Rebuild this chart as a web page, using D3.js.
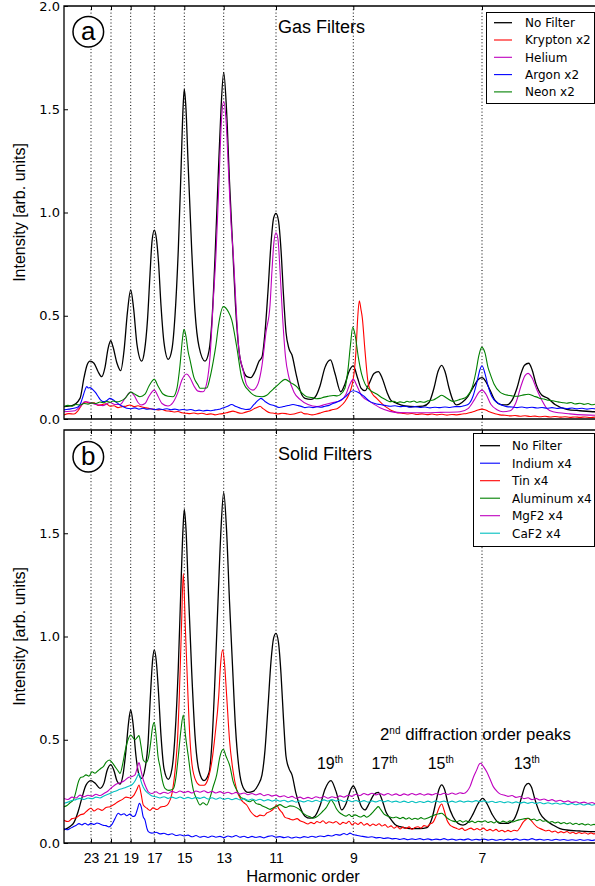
<!DOCTYPE html>
<html>
<head>
<meta charset="utf-8">
<script src="https://cdn.jsdelivr.net/npm/d3@7/dist/d3.min.js"></script>
<style>
  body { margin: 0; background: #fff; }
  svg { display: block; }
</style>
</head>
<body>
<svg id="chart" width="595" height="886"></svg>
<script>
// Detector position (mm along the MCP) of each harmonic order
const harmonicOrders = [23, 21, 19, 17, 15, 13, 11, 9, 7];
const harmonicPos = [2.7, 4.7, 6.67, 9.03, 12.03, 15.97, 21.2, 28.93, 41.8];
const yTicksA = [0, 0.5, 1.0, 1.5, 2.0];
const yTicksB = [0, 0.5, 1.0, 1.5];

// ---- (a) gas filters: [position mm, intensity] ----
const noFilterA = [[0,0.06],[0.8,0.065],[1.6,0.10],[2.0,0.20],[2.3,0.26],[2.6,0.28],[3.0,0.27],[3.4,0.23],[3.77,0.205],[4.1,0.25],[4.4,0.34],[4.67,0.379],[4.9,0.35],[5.3,0.27],[5.67,0.234],[6.0,0.33],[6.35,0.52],[6.67,0.625],[6.95,0.54],[7.3,0.36],[7.77,0.28],
  [8.05,0.33],[8.35,0.48],[8.6,0.70],[8.8,0.86],[9.03,0.915],[9.25,0.87],[9.45,0.76],[9.7,0.55],[10.0,0.37],[10.43,0.289],
  [10.8,0.34],[11.1,0.50],[11.43,0.82],[11.7,1.2],[11.9,1.5],[12.03,1.597],[12.2,1.5],[12.4,1.25],[12.77,0.82],[13.1,0.52],[13.5,0.35],[14.1,0.28],
  [14.5,0.33],[14.8,0.48],[15.1,0.78],[15.4,1.15],[15.7,1.5],[15.97,1.679],[16.25,1.5],[16.55,1.15],[16.85,0.85],[17.15,0.55],[17.5,0.33],[17.9,0.24],[18.3,0.205],[18.67,0.20],
  [19.1,0.23],[19.5,0.28],[19.8,0.30],[20.1,0.42],[20.4,0.62],[20.7,0.85],[20.95,0.97],[21.2,0.996],[21.45,0.96],[21.7,0.82],[21.95,0.60],[22.2,0.42],[22.5,0.34],[22.8,0.31],[23.2,0.22],[23.6,0.14],[24.1,0.10],[24.7,0.095],
  [25.1,0.105],[25.6,0.16],[26.1,0.25],[26.65,0.286],[27.1,0.22],[27.67,0.132],[28.1,0.17],[28.5,0.23],[28.93,0.257],[29.35,0.20],[29.7,0.15],[30.1,0.137],[30.5,0.17],[31.0,0.22],[31.43,0.229],[31.8,0.20],[32.3,0.13],[32.7,0.09],[33.27,0.076],[34.1,0.063],[35.1,0.06],[35.9,0.062],[36.5,0.08],[37.0,0.15],[37.4,0.23],[37.77,0.26],[38.1,0.23],[38.5,0.15],[38.9,0.09],[39.27,0.068],[39.8,0.08],[40.4,0.11],[41.0,0.16],[41.4,0.19],[41.8,0.20],[42.2,0.18],[42.6,0.14],[43.1,0.09],[43.7,0.07],[44.27,0.068],[44.8,0.09],[45.3,0.15],[45.7,0.22],[46.05,0.26],[46.47,0.27],[46.8,0.24],[47.2,0.17],[47.77,0.116],[48.4,0.10],[49.1,0.07],[50.27,0.047],[51.6,0.04],[53.1,0.035],[53.6,0.035]];

const kryptonA = [[0,0.02],[0.5,0.026],[1.0,0.024],[1.4,0.04],[1.8,0.07],[2.2,0.082],[2.6,0.076],[3.0,0.078],[3.4,0.066],[3.8,0.07],[4.2,0.074],[4.6,0.062],[5.0,0.064],[5.4,0.055],[5.8,0.06],[6.2,0.062],[6.6,0.068],[7.0,0.06],[7.4,0.064],[7.8,0.058],[8.2,0.054],[8.6,0.05],[9.0,0.047],[9.4,0.044],[9.8,0.046],[10.2,0.04],[10.6,0.038],[11.0,0.034],[11.4,0.036],[11.8,0.03],[12.2,0.028],[12.6,0.026],[13.0,0.029],[13.4,0.025],[13.8,0.028],[14.27,0.022],[14.7,0.025],[15.1,0.02],[15.5,0.024],[15.9,0.026],[16.4,0.032],[16.9,0.038],[17.3,0.032],[17.7,0.028],[18.1,0.032],[18.4,0.036],[18.8,0.044],[19.1,0.052],[19.4,0.058],[19.6,0.062],[19.9,0.05],[20.2,0.04],[20.6,0.03],[21.0,0.028],[21.4,0.024],[21.8,0.028],[22.2,0.026],[22.6,0.022],[23.0,0.024],[23.4,0.03],[23.7,0.034],[24.0,0.026],[24.4,0.024],[24.8,0.02],[25.27,0.024],[25.7,0.03],[26.1,0.036],[26.5,0.04],[26.9,0.046],[27.3,0.05],[27.6,0.06],[28.1,0.085],[28.5,0.12],[28.83,0.17],[29.05,0.24],[29.2,0.33],[29.37,0.49],[29.53,0.573],[29.7,0.53],[29.83,0.49],[30.1,0.33],[30.43,0.17],[30.8,0.125],[31.27,0.10],[31.9,0.07],[32.3,0.055],[32.6,0.045],[33.0,0.036],[33.27,0.031],[33.8,0.028],[34.3,0.024],[34.8,0.027],[35.3,0.022],[35.8,0.025],[36.3,0.021],[36.8,0.024],[37.3,0.02],[37.8,0.023],[38.3,0.019],[38.8,0.022],[39.3,0.02],[39.8,0.024],[40.27,0.027],[40.7,0.032],[41.0,0.036],[41.4,0.044],[41.8,0.048],[42.1,0.045],[42.4,0.038],[42.8,0.03],[43.1,0.025],[43.6,0.02],[44.1,0.018],[44.6,0.015],[45.1,0.017],[45.6,0.013],[46.1,0.016],[46.6,0.012],[47.1,0.014],[47.6,0.011],[48.1,0.013],[48.6,0.01],[49.1,0.012],[49.6,0.009],[50.1,0.011],[50.6,0.008],[51.1,0.01],[51.6,0.008],[52.1,0.01],[52.6,0.007],[53.1,0.009],[53.6,0.008]];

const heliumA = [[0,0.035],[1.1,0.04],[1.6,0.06],[2.1,0.085],[2.6,0.08],[3.2,0.07],[3.9,0.065],[4.6,0.08],[5.1,0.07],[5.6,0.07],[6.1,0.10],[6.67,0.13],[7.0,0.115],[7.4,0.08],[7.7,0.068],[8.1,0.075],[8.5,0.11],[9.03,0.14],[9.4,0.11],[9.8,0.075],[10.4,0.063],[10.9,0.08],[11.4,0.13],[11.8,0.19],[12.27,0.218],[12.6,0.20],[13.0,0.16],[13.4,0.135],[13.9,0.132],[14.3,0.18],[14.6,0.30],[14.9,0.55],[15.2,0.80],[15.5,1.15],[15.75,1.45],[15.97,1.537],[16.2,1.45],[16.45,1.2],[16.7,0.95],[16.95,0.78],[17.2,0.55],[17.5,0.33],[17.9,0.24],[18.27,0.165],[18.9,0.14],[19.4,0.17],[19.8,0.26],[20.2,0.42],[20.6,0.55],[20.8,0.72],[21.0,0.86],[21.2,0.902],[21.4,0.87],[21.6,0.72],[21.85,0.50],[22.15,0.30],[22.5,0.20],[23.0,0.13],[23.6,0.095],[24.4,0.07],[25.3,0.06],[26.1,0.07],[26.9,0.08],[27.7,0.09],[28.2,0.12],[28.6,0.17],[28.93,0.192],[29.3,0.16],[29.8,0.11],[30.6,0.084],[31.6,0.055],[32.6,0.037],[33.6,0.031],[35.6,0.03],[37.6,0.032],[39.6,0.035],[40.4,0.05],[41.0,0.09],[41.5,0.13],[41.8,0.14],[42.2,0.12],[42.7,0.07],[43.3,0.045],[43.9,0.035],[44.6,0.04],[45.2,0.08],[45.7,0.16],[46.1,0.21],[46.4,0.221],[46.8,0.20],[47.3,0.14],[47.8,0.09],[48.3,0.05],[48.9,0.035],[50.6,0.025],[53.1,0.018],[53.6,0.018]];

const argonA = [[0,0.044],[0.5,0.048],[1.0,0.052],[1.4,0.058],[1.7,0.08],[1.9,0.11],[2.1,0.14],[2.27,0.157],[2.45,0.15],[2.6,0.152],[2.93,0.14],[3.2,0.125],[3.4,0.11],[3.7,0.09],[3.9,0.084],[4.3,0.09],[4.6,0.10],[5.0,0.09],[5.3,0.078],[5.6,0.068],[5.9,0.06],[6.27,0.052],[6.7,0.05],[7.1,0.054],[7.5,0.048],[7.9,0.052],[8.3,0.047],[8.7,0.05],[9.1,0.045],[9.5,0.049],[9.9,0.046],[10.3,0.05],[10.7,0.045],[11.1,0.048],[11.5,0.043],[11.9,0.046],[12.3,0.043],[12.7,0.046],[13.1,0.04],[13.5,0.043],[13.9,0.039],[14.3,0.042],[14.7,0.04],[15.1,0.044],[15.5,0.047],[15.8,0.052],[16.3,0.06],[16.77,0.07],[17.2,0.06],[17.5,0.055],[17.8,0.05],[18.2,0.046],[18.6,0.048],[18.9,0.065],[19.1,0.075],[19.4,0.09],[19.7,0.10],[20.1,0.085],[20.6,0.07],[21.0,0.065],[21.2,0.06],[21.5,0.056],[21.8,0.058],[22.1,0.062],[22.4,0.065],[22.9,0.07],[23.4,0.065],[23.8,0.06],[24.1,0.055],[24.5,0.058],[24.9,0.055],[25.3,0.059],[25.7,0.057],[26.1,0.062],[26.5,0.066],[26.9,0.075],[27.3,0.082],[27.6,0.09],[28.2,0.11],[28.6,0.13],[28.93,0.137],[29.4,0.13],[30.0,0.11],[30.6,0.084],[31.1,0.075],[31.6,0.07],[32.1,0.066],[32.6,0.062],[33.1,0.064],[33.6,0.06],[34.1,0.062],[34.6,0.057],[35.1,0.06],[35.6,0.056],[36.1,0.058],[36.6,0.054],[37.1,0.057],[37.6,0.055],[38.1,0.058],[38.6,0.056],[39.1,0.06],[39.6,0.06],[40.0,0.064],[40.4,0.07],[40.9,0.11],[41.3,0.18],[41.6,0.24],[41.8,0.258],[42.1,0.22],[42.4,0.16],[42.77,0.11],[43.3,0.08],[43.9,0.065],[44.27,0.06],[44.8,0.058],[45.3,0.055],[45.8,0.058],[46.3,0.054],[46.8,0.057],[47.3,0.053],[47.8,0.056],[48.3,0.052],[48.8,0.055],[49.3,0.051],[49.8,0.054],[50.3,0.05],[50.8,0.053],[51.3,0.049],[51.8,0.052],[52.3,0.048],[52.8,0.051],[53.3,0.048],[53.6,0.049]];

const neonA = [[0,0.06],[0.4,0.066],[0.8,0.062],[1.2,0.07],[1.6,0.068],[2.0,0.075],[2.4,0.072],[2.8,0.078],[3.2,0.075],[3.6,0.082],[4.0,0.079],[4.27,0.085],[4.6,0.081],[4.9,0.087],[5.3,0.083],[5.6,0.086],[6.1,0.10],[6.67,0.13],[7.1,0.12],[7.6,0.108],[8.1,0.12],[8.5,0.16],[9.03,0.192],[9.4,0.16],[9.9,0.121],[10.4,0.11],[10.9,0.108],[11.3,0.15],[11.6,0.26],[11.85,0.39],[12.0,0.434],[12.2,0.40],[12.4,0.33],[12.6,0.286],[13.0,0.2],[13.4,0.165],[13.6,0.149],[14.27,0.15],[14.6,0.2],[14.93,0.28],[15.2,0.36],[15.43,0.447],[15.93,0.544],[16.43,0.52],[16.77,0.48],[17.27,0.35],[17.77,0.2],[18.1,0.16],[18.43,0.14],[18.9,0.118],[19.27,0.11],[19.8,0.108],[20.27,0.115],[20.6,0.13],[20.93,0.145],[21.5,0.17],[22.1,0.192],[22.7,0.175],[23.27,0.157],[23.8,0.125],[24.27,0.108],[24.8,0.104],[25.2,0.098],[25.6,0.1],[26.0,0.106],[26.4,0.11],[26.93,0.114],[27.3,0.112],[27.6,0.117],[28.1,0.15],[28.4,0.24],[28.65,0.36],[28.87,0.444],[29.1,0.41],[29.43,0.30],[29.75,0.22],[30.1,0.17],[30.6,0.14],[31.27,0.121],[31.9,0.10],[32.3,0.09],[32.6,0.084],[33.0,0.086],[33.3,0.08],[33.6,0.083],[34.0,0.079],[34.3,0.086],[34.6,0.082],[35.0,0.087],[35.3,0.08],[35.6,0.084],[36.0,0.081],[36.4,0.088],[36.93,0.092],[37.4,0.105],[37.77,0.115],[38.3,0.10],[38.9,0.085],[39.3,0.09],[39.6,0.095],[40.0,0.1],[40.27,0.108],[40.8,0.15],[41.2,0.23],[41.5,0.31],[41.77,0.347],[42.1,0.32],[42.4,0.25],[42.6,0.221],[43.0,0.17],[43.6,0.13],[44.0,0.12],[44.4,0.115],[44.8,0.112],[45.27,0.11],[45.8,0.115],[46.43,0.12],[47.0,0.11],[47.3,0.106],[47.6,0.1],[48.0,0.097],[48.3,0.092],[48.6,0.09],[49.0,0.087],[49.4,0.083],[49.8,0.08],[50.27,0.076],[50.7,0.08],[51.1,0.073],[51.6,0.076],[52.0,0.071],[52.4,0.075],[52.8,0.069],[53.2,0.072],[53.6,0.07]];

// ---- (b) solid filters ----
const noFilterB = [[0,0.063],[0.6,0.08],[1.0,0.10],[1.4,0.15],[1.8,0.22],[2.2,0.28],[2.7,0.302],[3.1,0.29],[3.6,0.265],[4.0,0.29],[4.3,0.35],[4.67,0.38],[5.0,0.35],[5.3,0.30],[5.6,0.285],[5.9,0.33],[6.2,0.45],[6.45,0.58],[6.67,0.644],[6.9,0.58],[7.2,0.42],[7.5,0.33],[7.77,0.313],[8.1,0.36],[8.4,0.48],[8.65,0.72],[8.85,0.88],[9.03,0.935],[9.23,0.88],[9.45,0.73],[9.7,0.52],[10.0,0.36],[10.43,0.308],[10.8,0.36],[11.1,0.52],[11.43,0.85],[11.7,1.25],[11.9,1.52],[12.03,1.616],[12.2,1.52],[12.4,1.27],[12.77,0.83],[13.1,0.52],[13.5,0.35],[14.0,0.302],[14.5,0.34],[14.8,0.49],[15.1,0.8],[15.4,1.17],[15.7,1.52],[15.97,1.698],[16.25,1.52],[16.55,1.17],[16.85,0.86],[17.15,0.56],[17.5,0.36],[17.9,0.27],[18.4,0.245],[18.9,0.25],[19.4,0.28],[19.8,0.33],[20.1,0.45],[20.4,0.66],[20.7,0.88],[20.95,0.99],[21.2,1.015],[21.45,0.97],[21.7,0.82],[21.95,0.60],[22.2,0.42],[22.5,0.36],[22.8,0.33],[23.2,0.24],[23.6,0.176],[24.1,0.13],[24.6,0.12],[25.1,0.13],[25.6,0.18],[26.1,0.26],[26.7,0.302],[27.2,0.25],[27.77,0.16],[28.2,0.19],[28.6,0.25],[28.93,0.276],[29.3,0.24],[29.7,0.18],[30.1,0.16],[30.5,0.19],[31.0,0.235],[31.43,0.245],[31.8,0.21],[32.2,0.15],[32.6,0.12],[33.1,0.09],[33.6,0.079],[34.6,0.07],[35.6,0.07],[36.3,0.075],[36.8,0.12],[37.2,0.2],[37.5,0.26],[37.77,0.281],[38.05,0.26],[38.4,0.19],[38.9,0.127],[39.4,0.095],[39.9,0.087],[40.4,0.1],[40.9,0.14],[41.4,0.19],[41.87,0.216],[42.3,0.19],[42.8,0.14],[43.6,0.095],[44.3,0.095],[44.93,0.11],[45.4,0.16],[45.8,0.23],[46.1,0.275],[46.43,0.289],[46.75,0.27],[47.1,0.21],[47.6,0.144],[48.2,0.11],[48.9,0.087],[49.6,0.07],[50.27,0.063],[51.6,0.058],[53.1,0.055],[53.6,0.055]];

const indiumB = [[0,0.071],[0.3,0.064],[0.6,0.07],[0.9,0.078],[1.2,0.085],[1.5,0.094],[1.8,0.088],[2.1,0.096],[2.4,0.087],[2.7,0.095],[3.0,0.09],[3.3,0.097],[3.6,0.092],[3.9,0.086],[4.2,0.084],[4.5,0.078],[4.8,0.09],[5.1,0.118],[5.43,0.144],[5.7,0.136],[6.0,0.142],[6.27,0.132],[6.6,0.14],[6.9,0.128],[7.1,0.132],[7.35,0.165],[7.53,0.192],[7.75,0.17],[7.9,0.13],[8.1,0.111],[8.3,0.07],[8.43,0.055],[8.8,0.048],[9.2,0.052],[9.6,0.044],[10.0,0.047],[10.4,0.04],[10.8,0.045],[11.2,0.036],[11.6,0.04],[12.0,0.034],[12.4,0.038],[12.8,0.03],[13.2,0.036],[13.6,0.028],[14.0,0.033],[14.4,0.027],[14.8,0.034],[15.2,0.028],[15.6,0.032],[16.0,0.026],[16.4,0.034],[16.8,0.029],[17.2,0.036],[17.6,0.028],[18.0,0.033],[18.4,0.026],[18.8,0.032],[19.2,0.027],[19.6,0.031],[20.0,0.025],[20.4,0.032],[20.8,0.035],[21.2,0.028],[21.6,0.031],[22.0,0.026],[22.4,0.03],[22.8,0.024],[23.2,0.029],[23.6,0.025],[24.0,0.031],[24.4,0.027],[24.8,0.033],[25.2,0.028],[25.6,0.034],[26.0,0.031],[26.4,0.037],[26.8,0.034],[27.2,0.041],[27.6,0.038],[28.0,0.046],[28.3,0.04],[28.6,0.048],[28.9,0.041],[29.2,0.038],[29.6,0.034],[30.0,0.031],[30.4,0.028],[30.8,0.03],[31.2,0.025],[31.6,0.027],[32.0,0.022],[32.4,0.025],[32.8,0.02],[33.2,0.022],[33.6,0.017],[34.0,0.021],[34.4,0.016],[34.8,0.02],[35.2,0.017],[35.6,0.021],[36.0,0.016],[36.4,0.02],[36.8,0.015],[37.2,0.019],[37.6,0.016],[38.0,0.021],[38.4,0.015],[38.8,0.019],[39.2,0.014],[39.6,0.018],[40.0,0.015],[40.4,0.02],[40.8,0.014],[41.2,0.018],[41.6,0.015],[42.0,0.019],[42.4,0.014],[42.8,0.018],[43.2,0.013],[43.6,0.017],[44.0,0.014],[44.4,0.019],[44.8,0.015],[45.2,0.02],[45.6,0.014],[46.0,0.018],[46.4,0.015],[46.8,0.021],[47.2,0.015],[47.6,0.018],[48.0,0.014],[48.4,0.017],[48.8,0.013],[49.2,0.018],[49.6,0.014],[50.0,0.017],[50.4,0.013],[50.8,0.016],[51.2,0.013],[51.6,0.017],[52.0,0.013],[52.4,0.016],[52.8,0.012],[53.2,0.016],[53.6,0.014]];

const tinB = [[0,0.11],[0.4,0.104],[0.8,0.118],[1.2,0.122],[1.6,0.136],[2.0,0.142],[2.4,0.16],[2.7,0.168],[3.0,0.155],[3.4,0.166],[3.8,0.158],[4.2,0.172],[4.6,0.176],[5.0,0.186],[5.4,0.2],[5.8,0.21],[6.2,0.222],[6.6,0.218],[7.0,0.232],[7.3,0.26],[7.5,0.281],[7.7,0.24],[7.93,0.184],[8.3,0.168],[8.6,0.158],[8.9,0.17],[9.3,0.162],[9.7,0.175],[10.1,0.178],[10.43,0.19],[10.8,0.24],[11.2,0.4],[11.35,0.5],[11.53,0.71],[11.75,1.05],[11.93,1.306],[12.13,1.05],[12.4,0.71],[12.6,0.5],[12.8,0.38],[13.2,0.3],[13.6,0.28],[14.0,0.28],[14.4,0.31],[14.8,0.40],[15.1,0.52],[15.47,0.71],[15.65,0.86],[15.87,0.935],[16.05,0.87],[16.27,0.71],[16.55,0.5],[16.9,0.35],[17.27,0.257],[17.7,0.21],[18.0,0.195],[18.27,0.184],[18.7,0.15],[19.0,0.135],[19.27,0.127],[19.6,0.135],[20.0,0.132],[20.27,0.145],[20.6,0.152],[21.0,0.168],[21.27,0.184],[21.5,0.165],[21.8,0.148],[22.1,0.124],[22.5,0.118],[22.9,0.112],[23.3,0.118],[23.6,0.108],[24.0,0.1],[24.4,0.092],[24.7,0.1],[25.0,0.094],[25.3,0.104],[25.6,0.098],[25.9,0.108],[26.2,0.095],[26.5,0.103],[26.9,0.097],[27.2,0.104],[27.6,0.09],[27.9,0.1],[28.2,0.095],[28.5,0.105],[28.8,0.088],[29.1,0.098],[29.4,0.09],[29.7,0.1],[30.0,0.086],[30.3,0.094],[30.6,0.083],[30.9,0.092],[31.2,0.085],[31.5,0.093],[31.8,0.082],[32.1,0.089],[32.4,0.076],[32.7,0.083],[33.0,0.072],[33.3,0.08],[33.6,0.068],[33.9,0.077],[34.2,0.07],[34.5,0.078],[34.8,0.066],[35.1,0.075],[35.4,0.079],[35.7,0.072],[36.0,0.084],[36.3,0.08],[36.6,0.092],[36.9,0.1],[37.2,0.13],[37.5,0.17],[37.77,0.189],[38.0,0.16],[38.3,0.11],[38.6,0.087],[38.9,0.078],[39.2,0.072],[39.5,0.066],[39.8,0.072],[40.1,0.061],[40.4,0.067],[40.7,0.072],[41.0,0.064],[41.3,0.07],[41.6,0.063],[41.93,0.072],[42.3,0.06],[42.6,0.066],[42.9,0.058],[43.2,0.066],[43.5,0.056],[43.8,0.062],[44.1,0.054],[44.4,0.061],[44.7,0.055],[45.0,0.062],[45.3,0.058],[45.6,0.075],[45.9,0.1],[46.2,0.114],[46.43,0.12],[46.7,0.11],[47.0,0.092],[47.3,0.078],[47.6,0.07],[47.9,0.064],[48.2,0.058],[48.5,0.062],[48.8,0.053],[49.1,0.058],[49.4,0.049],[49.7,0.055],[50.0,0.05],[50.3,0.056],[50.6,0.047],[50.9,0.052],[51.2,0.045],[51.5,0.051],[51.8,0.046],[52.1,0.05],[52.4,0.043],[52.7,0.049],[53.0,0.044],[53.3,0.048],[53.6,0.046]];

const aluminumB = [[0,0.176],[0.3,0.182],[0.6,0.195],[0.93,0.208],[1.2,0.25],[1.4,0.29],[1.7,0.318],[1.93,0.321],[2.2,0.33],[2.5,0.324],[2.8,0.345],[3.1,0.338],[3.4,0.35],[3.7,0.362],[3.93,0.37],[4.2,0.39],[4.53,0.402],[4.8,0.39],[5.1,0.37],[5.4,0.35],[5.6,0.337],[5.9,0.39],[6.1,0.442],[6.4,0.5],[6.67,0.523],[6.9,0.51],[7.1,0.5],[7.3,0.51],[7.5,0.52],[7.7,0.47],[7.93,0.402],[8.2,0.39],[8.43,0.41],[8.65,0.48],[8.85,0.56],[9.03,0.583],[9.25,0.5],[9.4,0.42],[9.6,0.37],[9.85,0.3],[10.1,0.265],[10.5,0.255],[10.93,0.262],[11.2,0.32],[11.43,0.42],[11.7,0.55],[11.93,0.62],[12.15,0.52],[12.43,0.42],[12.7,0.32],[12.93,0.257],[13.3,0.21],[13.6,0.184],[13.9,0.195],[14.27,0.184],[14.6,0.22],[14.9,0.27],[15.27,0.33],[15.6,0.42],[15.93,0.454],[16.2,0.42],[16.6,0.37],[16.9,0.3],[17.27,0.257],[17.7,0.22],[18.0,0.214],[18.27,0.205],[18.6,0.2],[18.9,0.208],[19.2,0.192],[19.6,0.186],[19.9,0.178],[20.2,0.172],[20.6,0.163],[20.9,0.17],[21.2,0.176],[21.6,0.186],[21.9,0.178],[22.2,0.172],[22.6,0.18],[22.93,0.178],[23.3,0.17],[23.6,0.16],[23.9,0.145],[24.2,0.135],[24.6,0.127],[24.9,0.12],[25.2,0.125],[25.6,0.14],[25.9,0.155],[26.2,0.17],[26.5,0.195],[26.7,0.208],[27.0,0.19],[27.2,0.17],[27.5,0.15],[27.9,0.136],[28.2,0.13],[28.5,0.138],[28.8,0.128],[29.1,0.136],[29.4,0.13],[29.7,0.126],[30.0,0.134],[30.27,0.125],[30.6,0.135],[30.9,0.15],[31.2,0.166],[31.43,0.176],[31.7,0.16],[32.0,0.14],[32.3,0.132],[32.6,0.126],[32.9,0.122],[33.2,0.126],[33.6,0.118],[33.9,0.124],[34.2,0.116],[34.5,0.122],[34.8,0.114],[35.1,0.12],[35.4,0.115],[35.7,0.123],[36.0,0.116],[36.3,0.12],[36.6,0.126],[36.9,0.132],[37.2,0.138],[37.5,0.142],[37.77,0.144],[38.0,0.136],[38.3,0.122],[38.6,0.112],[38.9,0.106],[39.27,0.103],[39.6,0.109],[39.9,0.101],[40.2,0.108],[40.5,0.1],[40.8,0.106],[41.1,0.098],[41.4,0.105],[41.8,0.102],[42.1,0.108],[42.4,0.099],[42.7,0.104],[43.0,0.097],[43.3,0.105],[43.6,0.099],[43.9,0.106],[44.27,0.1],[44.6,0.107],[44.9,0.102],[45.2,0.108],[45.5,0.112],[45.8,0.115],[46.1,0.118],[46.4,0.12],[46.7,0.112],[47.0,0.116],[47.3,0.108],[47.6,0.114],[47.9,0.105],[48.2,0.108],[48.5,0.099],[48.8,0.104],[49.1,0.097],[49.4,0.102],[49.7,0.094],[50.0,0.099],[50.3,0.093],[50.6,0.098],[50.9,0.09],[51.2,0.096],[51.5,0.089],[51.8,0.094],[52.1,0.087],[52.4,0.092],[52.7,0.086],[53.0,0.09],[53.3,0.085],[53.6,0.088]];

const mgf2B = [[0,0.216],[0.4,0.211],[0.8,0.222],[1.2,0.218],[1.6,0.232],[2.0,0.224],[2.4,0.231],[2.8,0.226],[3.2,0.236],[3.6,0.23],[4.0,0.24],[4.4,0.252],[4.8,0.27],[5.2,0.285],[5.6,0.292],[6.0,0.3],[6.4,0.316],[6.8,0.322],[7.1,0.33],[7.3,0.36],[7.5,0.389],[7.7,0.35],[7.93,0.305],[8.2,0.27],[8.43,0.248],[8.8,0.24],[9.2,0.248],[9.6,0.238],[10.0,0.246],[10.4,0.24],[10.8,0.25],[11.2,0.243],[11.6,0.252],[12.0,0.244],[12.4,0.25],[12.8,0.242],[13.2,0.252],[13.6,0.246],[14.0,0.253],[14.4,0.244],[14.8,0.25],[15.2,0.242],[15.6,0.249],[16.0,0.24],[16.4,0.246],[16.8,0.238],[17.2,0.245],[17.6,0.237],[18.0,0.242],[18.4,0.234],[18.8,0.24],[19.2,0.233],[19.6,0.239],[20.0,0.229],[20.4,0.235],[20.8,0.227],[21.2,0.232],[21.6,0.224],[22.0,0.229],[22.4,0.22],[22.8,0.226],[23.2,0.216],[23.6,0.222],[24.0,0.214],[24.4,0.221],[24.8,0.215],[25.2,0.224],[25.6,0.218],[26.0,0.225],[26.4,0.217],[26.8,0.224],[27.2,0.219],[27.6,0.228],[28.0,0.222],[28.4,0.231],[28.8,0.226],[29.2,0.236],[29.6,0.23],[30.0,0.24],[30.4,0.233],[30.8,0.241],[31.2,0.233],[31.6,0.24],[32.0,0.232],[32.4,0.24],[32.8,0.231],[33.2,0.238],[33.6,0.23],[34.0,0.238],[34.4,0.232],[34.8,0.24],[35.2,0.233],[35.6,0.239],[36.0,0.232],[36.4,0.238],[36.8,0.233],[37.2,0.24],[37.6,0.234],[38.0,0.241],[38.4,0.235],[38.8,0.242],[39.2,0.236],[39.6,0.243],[39.93,0.24],[40.3,0.25],[40.6,0.273],[40.95,0.32],[41.27,0.354],[41.5,0.38],[41.67,0.386],[41.95,0.37],[42.27,0.345],[42.6,0.31],[42.93,0.273],[43.3,0.25],[43.6,0.238],[44.0,0.232],[44.4,0.226],[44.8,0.23],[45.2,0.221],[45.6,0.225],[46.0,0.215],[46.4,0.219],[46.8,0.21],[47.2,0.216],[47.6,0.208],[48.0,0.213],[48.4,0.205],[48.8,0.21],[49.2,0.202],[49.6,0.207],[50.0,0.199],[50.4,0.204],[50.8,0.196],[51.2,0.2],[51.6,0.193],[52.0,0.198],[52.4,0.191],[52.8,0.196],[53.2,0.19],[53.6,0.193]];

const caf2B = [[0,0.192],[0.4,0.198],[0.8,0.206],[1.2,0.21],[1.6,0.216],[2.0,0.211],[2.4,0.218],[2.8,0.214],[3.2,0.222],[3.6,0.218],[4.0,0.228],[4.4,0.236],[4.8,0.245],[5.2,0.252],[5.6,0.26],[6.0,0.266],[6.4,0.274],[6.8,0.282],[7.1,0.3],[7.3,0.32],[7.5,0.337],[7.7,0.3],[7.93,0.27],[8.2,0.25],[8.43,0.24],[8.8,0.228],[9.2,0.224],[9.6,0.218],[10.0,0.224],[10.4,0.216],[10.8,0.222],[11.2,0.216],[11.6,0.223],[12.0,0.215],[12.4,0.221],[12.8,0.214],[13.2,0.221],[13.6,0.216],[14.0,0.222],[14.4,0.213],[14.8,0.219],[15.2,0.212],[15.6,0.219],[16.0,0.211],[16.4,0.217],[16.8,0.21],[17.2,0.216],[17.6,0.209],[18.0,0.215],[18.4,0.207],[18.8,0.213],[19.2,0.206],[19.6,0.212],[20.0,0.204],[20.4,0.21],[20.8,0.203],[21.2,0.209],[21.6,0.202],[22.0,0.207],[22.4,0.199],[22.8,0.205],[23.2,0.198],[23.6,0.204],[24.0,0.199],[24.4,0.206],[24.8,0.2],[25.2,0.207],[25.6,0.201],[26.0,0.209],[26.4,0.203],[26.8,0.21],[27.2,0.203],[27.6,0.208],[28.0,0.201],[28.4,0.207],[28.8,0.2],[29.2,0.206],[29.6,0.199],[30.0,0.205],[30.4,0.198],[30.8,0.204],[31.2,0.199],[31.6,0.206],[32.0,0.2],[32.4,0.205],[32.8,0.198],[33.2,0.203],[33.6,0.197],[34.0,0.203],[34.4,0.196],[34.8,0.202],[35.2,0.195],[35.6,0.201],[36.0,0.196],[36.4,0.203],[36.8,0.197],[37.2,0.204],[37.6,0.198],[38.0,0.203],[38.4,0.197],[38.8,0.203],[39.2,0.197],[39.6,0.204],[40.0,0.198],[40.4,0.203],[40.8,0.199],[41.2,0.205],[41.6,0.2],[42.0,0.204],[42.4,0.197],[42.8,0.202],[43.2,0.196],[43.6,0.201],[44.0,0.195],[44.4,0.2],[44.8,0.194],[45.2,0.199],[45.6,0.193],[46.0,0.198],[46.4,0.192],[46.8,0.197],[47.2,0.191],[47.6,0.196],[48.0,0.19],[48.4,0.195],[48.8,0.189],[49.2,0.194],[49.6,0.188],[50.0,0.192],[50.4,0.186],[50.8,0.191],[51.2,0.185],[51.6,0.19],[52.0,0.184],[52.4,0.189],[52.8,0.183],[53.2,0.187],[53.6,0.184]];

const gasSeries = [
  { name: "No Filter",  color: "#000000", data: noFilterA },
  { name: "Krypton x2", color: "#ff0000", data: kryptonA },
  { name: "Helium",     color: "#bf00bf", data: heliumA },
  { name: "Argon x2",   color: "#0000ff", data: argonA },
  { name: "Neon x2",    color: "#008000", data: neonA }
];
const solidSeries = [
  { name: "No Filter",   color: "#000000", data: noFilterB },
  { name: "Indium x4",   color: "#0000ff", data: indiumB },
  { name: "Tin x4",      color: "#ff0000", data: tinB },
  { name: "Aluminum x4", color: "#008000", data: aluminumB },
  { name: "MgF2 x4",     color: "#bf00bf", data: mgf2B },
  { name: "CaF2 x4",     color: "#00bfbf", data: caf2B }
];

const secondOrderLabels = [
  { order: "19", pos: 26.6 },
  { order: "17", pos: 32.05 },
  { order: "15", pos: 37.67 },
  { order: "13", pos: 46.27 }
];

// ---- layout ----
const svg = d3.select("#chart");
const left = 64, right = 600;
const panelA = { top: 6, bottom: 419 };
const panelB = { top: 430, bottom: 843 };

const x = d3.scaleLinear().domain([0, 53.6]).range([left, right]);
const yA = d3.scaleLinear().domain([0, 2]).range([panelA.bottom, panelA.top]);
const yB = d3.scaleLinear().domain([0, 2]).range([panelB.bottom, panelB.top]);

const sans = "'Liberation Sans', Arial, Helvetica, sans-serif";
const vera = "'DejaVu Sans', sans-serif";

// dotted guides at each harmonic order, running through both panels
svg.append("g").selectAll("line").data(harmonicPos).join("line")
  .attr("x1", d => x(d)).attr("x2", d => x(d))
  .attr("y1", panelA.top).attr("y2", panelB.bottom)
  .attr("stroke", "#000").attr("stroke-width", 1)
  .attr("stroke-dasharray", "1,2.3");

function drawPanel(panel, y, series, yTicks, id, showLabels) {
  const clipId = "clip-" + id;
  svg.append("clipPath").attr("id", clipId).append("rect")
    .attr("x", left).attr("y", panel.top)
    .attr("width", right - left).attr("height", panel.bottom - panel.top);

  const line = d3.line().x(d => x(d[0])).y(d => y(d[1])).curve(d3.curveMonotoneX);
  const g = svg.append("g").attr("clip-path", `url(#${clipId})`);
  g.selectAll("path").data(series).join("path")
    .attr("d", d => line(d.data))
    .attr("fill", "none")
    .attr("stroke", d => d.color)
    .attr("stroke-width", d => d.color === "#000000" ? 1.3 : 1.1)
    .attr("stroke-linejoin", "round");

  // frame
  svg.append("path")
    .attr("d", `M${right},${panel.top}H${left}V${panel.bottom}H${right}`)
    .attr("fill", "none").attr("stroke", "#000").attr("stroke-width", 1.3);

  // y axis, ticks pointing inward
  const ya = svg.append("g").attr("transform", `translate(${left},0)`)
    .call(d3.axisLeft(y).tickValues(yTicks).tickFormat(d3.format(".1f")).tickSize(-4).tickPadding(4));
  ya.select(".domain").remove();
  ya.selectAll("text").attr("font-family", vera).attr("font-size", 13).attr("fill", "#000");
  ya.selectAll("line").attr("stroke-width", 1);

  // x ticks at the harmonic orders (bottom and top, inward)
  const xb = svg.append("g").attr("transform", `translate(0,${panel.bottom})`)
    .call(d3.axisBottom(x).tickValues(harmonicPos)
      .tickFormat((d, i) => showLabels ? harmonicOrders[i] : "")
      .tickSize(-4).tickPadding(10));
  xb.select(".domain").remove();
  xb.selectAll("text").attr("font-family", sans).attr("font-size", 14).attr("fill", "#000");
  const xt = svg.append("g").attr("transform", `translate(0,${panel.top})`)
    .call(d3.axisTop(x).tickValues(harmonicPos).tickFormat("").tickSize(-4));
  xt.select(".domain").remove();

  return g;
}

drawPanel(panelA, yA, gasSeries, yTicksA, "a", false);
drawPanel(panelB, yB, solidSeries, yTicksB, "b", true);

// legends
function drawLegend(series, box, lineX, textX, rowY, step) {
  const g = svg.append("g");
  g.append("rect").attr("x", box.x).attr("y", box.y).attr("width", box.w).attr("height", box.h)
    .attr("fill", "#fff").attr("stroke", "#000").attr("stroke-width", 1);
  const rows = g.selectAll("g.row").data(series).join("g").attr("class", "row")
    .attr("transform", (d, i) => `translate(0,${rowY + i * step})`);
  rows.append("line").attr("x1", lineX[0]).attr("x2", lineX[1])
    .attr("stroke", d => d.color).attr("stroke-width", d => d.color === "#000000" ? 1.3 : 1.1);
  rows.append("text").attr("x", textX).attr("dy", "0.36em")
    .attr("font-family", vera).attr("font-size", 12).attr("fill", "#000")
    .text(d => d.name);
}
drawLegend(gasSeries, { x: 486.5, y: 12.5, w: 108, h: 91 }, [494, 512], 525, 22.7, 17.3);
drawLegend(solidSeries, { x: 473.5, y: 433.5, w: 121, h: 113 }, [480, 500], 512, 445.7, 17.5);

// panel titles and circled letters
svg.append("text").attr("x", 278).attr("y", 33).attr("font-family", sans).attr("font-size", 18).text("Gas Filters");
svg.append("text").attr("x", 278).attr("y", 460).attr("font-family", sans).attr("font-size", 18).text("Solid Filters");

[{ t: "a", cy: 31.7 }, { t: "b", cy: 456.7 }].forEach(c => {
  svg.append("circle").attr("cx", 88.3).attr("cy", c.cy).attr("r", 15.3)
    .attr("fill", "#fff").attr("stroke", "#000").attr("stroke-width", 1.5);
  svg.append("text").attr("x", 88.3).attr("y", c.cy).attr("dy", "0.33em")
    .attr("text-anchor", "middle").attr("font-family", sans).attr("font-size", 26).text(c.t);
});

// axis titles
[yA, yB].forEach(y => {
  const cy = (y.range()[0] + y.range()[1]) / 2;
  svg.append("text").attr("transform", `translate(25,${cy}) rotate(-90)`)
    .attr("text-anchor", "middle").attr("font-family", sans).attr("font-size", 16)
    .text("Intensity [arb. units]");
});
svg.append("text").attr("x", 303).attr("y", 882).attr("text-anchor", "middle")
  .attr("font-family", sans).attr("font-size", 16.5).text("Harmonic order");

// second diffraction order annotations
const ann = svg.append("text").attr("x", 380).attr("y", 740).attr("font-family", sans).attr("font-size", 16.8);
ann.append("tspan").text("2");
ann.append("tspan").attr("font-size", 10).attr("dy", -6).text("nd");
ann.append("tspan").attr("dy", 6).text(" diffraction order peaks");

secondOrderLabels.forEach(d => {
  const t = svg.append("text").attr("x", x(d.pos)).attr("y", 769.3)
    .attr("text-anchor", "middle").attr("font-family", sans).attr("font-size", 16);
  t.append("tspan").text(d.order);
  t.append("tspan").attr("font-size", 10).attr("dy", -6).text("th");
});
</script>
</body>
</html>
